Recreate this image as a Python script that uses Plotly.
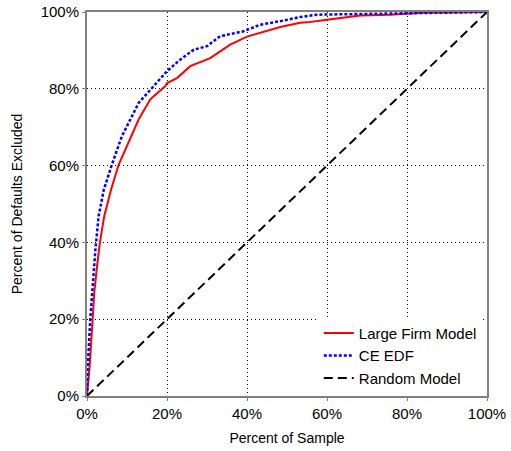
import plotly.graph_objects as go

# Large Firm Model (percent of sample, percent of defaults excluded)
lf_x = [0, 0.65, 1.4, 1.8, 2.5, 3.2, 4.3, 6.0, 7.9, 10.8, 12.9, 15.8, 16.6, 19.6, 20, 22.5,
        25.8, 30.8, 35.8, 40, 44.2, 48.3, 53.3, 55, 60, 64, 68.3, 75.8, 84, 100]
lf_y = [0, 7.6, 19.8, 26.8, 33.7, 39.8, 46.8, 53.7, 60.2, 66.8, 72.0, 77.2, 78.0, 80.7, 81.5, 82.8,
        85.9, 88.0, 91.5, 93.6, 94.8, 96.1, 97.2, 97.3, 98.0, 98.5, 99.1, 99.3, 99.8, 100]

# CE EDF
ce_x = [0, 0.2, 0.8, 1.5, 2.1, 2.9, 4.2, 6.2, 8.7, 12.9, 15.8, 20, 23.3, 26.7, 30, 33.3,
        39.2, 43.3, 48.3, 53.3, 57.5, 70, 85, 100]
ce_y = [0, 7.6, 19.8, 29.9, 38.1, 46.8, 53.7, 60.2, 67.6, 76.3, 79.8, 84.6, 87.6, 90.2, 91.1, 93.7,
        95.0, 96.7, 97.6, 98.7, 99.3, 99.5, 99.7, 100]

# Random Model
rm_x = [0, 100]
rm_y = [0, 100]

tick_vals = [0, 20, 40, 60, 80, 100]
tick_text = ["0%", "20%", "40%", "60%", "80%", "100%"]

FONT = "Liberation Sans, Arial, sans-serif"

fig = go.Figure()
fig.add_trace(go.Scatter(x=lf_x, y=lf_y, mode="lines", name="Large Firm Model",
                         line=dict(color="#ff0000", width=2)))
fig.add_trace(go.Scatter(x=ce_x, y=ce_y, mode="lines", name="CE EDF",
                         line=dict(color="#0000ff", width=2.5, dash="3px,2px")))
fig.add_trace(go.Scatter(x=rm_x, y=rm_y, mode="lines", name="Random Model",
                         line=dict(color="#000000", width=2, dash="9px,5px")))

axis_common = dict(
    range=[0, 100], tickvals=tick_vals, ticktext=tick_text,
    showgrid=True, gridcolor="#000000", gridwidth=1, griddash="1px,3px",
    showline=True, linecolor="#808080", linewidth=2, mirror=True,
    ticks="outside", ticklen=3, tickcolor="#808080",
    zeroline=False, automargin=False,
    tickfont=dict(family=FONT, size=15, color="#000000"),
)

fig.update_xaxes(**axis_common,
                 title=dict(text="Percent of Sample", font=dict(family=FONT, size=14, color="#000000"), standoff=12))
fig.update_yaxes(**axis_common,
                 title=dict(text="Percent of Defaults Excluded", font=dict(family=FONT, size=14, color="#000000"), standoff=15))

fig.update_layout(
    width=511, height=451,
    margin=dict(l=87, r=24, t=12, b=55),
    paper_bgcolor="#ffffff", plot_bgcolor="#ffffff",
    font=dict(family=FONT, size=14, color="#000000"),
    legend=dict(x=0.987, y=0.003, xanchor="right", yanchor="bottom",
                bgcolor="#ffffff", borderwidth=0, tracegroupgap=0,
                font=dict(family=FONT, size=15, color="#000000"),
                itemwidth=30),
    showlegend=True,
)

fig.write_html("out.html",
               config={"displayModeBar": False},
               post_script="document.body.style.margin='0';document.body.style.padding='0';")
